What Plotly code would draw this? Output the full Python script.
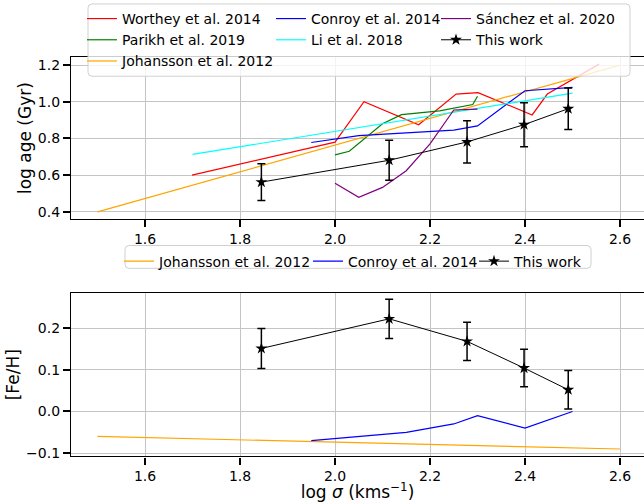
import plotly.graph_objects as go

W, H = 644, 502

# ---- data -------------------------------------------------------------
# this work: binned log velocity dispersion, age and metallicity
this_logsig = [1.845, 2.114, 2.278, 2.398, 2.491]
this_age = [0.562, 0.681, 0.781, 0.875, 0.962]
this_age_err = [0.100, 0.109, 0.115, 0.120, 0.113]
this_feh = [0.151, 0.222, 0.168, 0.104, 0.052]
this_feh_err = [0.048, 0.047, 0.046, 0.045, 0.046]

worthey_logsig = [1.699, 2.000, 2.061, 2.176, 2.255, 2.301, 2.415, 2.447, 2.556]
worthey_age = [0.600, 0.780, 1.000, 0.875, 1.042, 1.050, 0.928, 1.042, 1.205]

parikh_logsig = [2.00, 2.03, 2.10, 2.14, 2.22, 2.29, 2.30]
parikh_age = [0.710, 0.730, 0.880, 0.930, 0.950, 0.985, 1.030]

johansson_logsig = [1.5, 2.6]
johansson_age = [0.40, 1.20]
johansson_feh = [-0.060, -0.090]

conroy_logsig = [1.95, 2.05, 2.15, 2.25, 2.30, 2.40, 2.50]
conroy_age = [0.778, 0.815, 0.830, 0.845, 0.868, 1.060, 1.078]
conroy_feh = [-0.070, -0.060, -0.050, -0.030, -0.010, -0.040, 0.000]

li_logsig = [1.7, 2.5]
li_age = [0.713, 1.047]

sanchez_logsig = [2.00, 2.05, 2.10, 2.15, 2.20, 2.25, 2.30]
sanchez_age = [0.556, 0.479, 0.533, 0.624, 0.770, 0.955, 0.960]

x_ticks = [1.6, 1.8, 2.0, 2.2, 2.4, 2.6]
age_ticks = [0.4, 0.6, 0.8, 1.0, 1.2]
feh_ticks = [-0.1, 0.0, 0.1, 0.2]

FONT = "DejaVu Sans"
LW = 1.2


def px_x(p):
    return p / W


def px_y(p):
    return 1 - p / H


fig = go.Figure()


def line(x, y, name, color, xa, ya, legend):
    fig.add_trace(go.Scatter(
        x=x, y=y, name=name, mode="lines",
        line=dict(color=color, width=LW),
        xaxis=xa, yaxis=ya, legend=legend,
    ))


# upper panel: age vs log sigma
line(worthey_logsig, worthey_age, "Worthey et al. 2014", "#ff0000", "x", "y", "legend")
line(parikh_logsig, parikh_age, "Parikh et al. 2019", "#008000", "x", "y", "legend")
line(johansson_logsig, johansson_age, "Johansson et al. 2012", "#ffa500", "x", "y", "legend")
line(conroy_logsig, conroy_age, "Conroy et al. 2014", "#0000ff", "x", "y", "legend2")
line(li_logsig, li_age, "Li et al. 2018", "#00ffff", "x", "y", "legend2")
line(sanchez_logsig, sanchez_age, "Sánchez et al. 2020", "#800080", "x", "y", "legend3")
fig.add_trace(go.Scatter(
    x=this_logsig, y=this_age, name="This work", mode="lines+markers",
    line=dict(color="black", width=1),
    marker=dict(symbol="star", size=9, color="black"),
    error_y=dict(type="data", array=this_age_err, color="black", thickness=1.5, width=4),
    xaxis="x", yaxis="y", legend="legend3",
))

# lower panel: [Fe/H] vs log sigma
line(johansson_logsig, johansson_feh, "Johansson et al. 2012", "#ffa500", "x2", "y2", "legend4")
line(conroy_logsig, conroy_feh, "Conroy et al. 2014", "#0000ff", "x2", "y2", "legend5")
fig.add_trace(go.Scatter(
    x=this_logsig, y=this_feh, name="This work", mode="lines+markers",
    line=dict(color="black", width=1),
    marker=dict(symbol="star", size=9, color="black"),
    error_y=dict(type="data", array=this_feh_err, color="black", thickness=1.5, width=4),
    xaxis="x2", yaxis="y2", legend="legend6",
))

axis_common = dict(
    showline=True, linecolor="black", linewidth=1.2,
    ticks="outside", ticklen=7, tickwidth=1.5, tickcolor="black",
    showgrid=True, gridcolor="#c4c4c4", gridwidth=1,
    zeroline=False,
    tickfont=dict(family=FONT, size=14, color="black"),
)

x_dom = [px_x(71), 1.0]
x_range = [1.4442, 2.6505]

legend_common = dict(
    xanchor="left", yanchor="top", bgcolor="rgba(0,0,0,0)", borderwidth=0,
    font=dict(family=FONT, size=14, color="black"), tracegroupgap=0, itemwidth=30,
)


def leg(xp, yp, **kw):
    d = dict(legend_common)
    d.update(x=px_x(xp), y=px_y(yp), **kw)
    return d


def rounded_box(x0, y0, x1, y1, r=4):
    rx, ry = r / W, r / H
    X0, X1 = px_x(x0), px_x(x1)
    Y0, Y1 = px_y(y0), px_y(y1)  # Y0 is top
    return (
        f"M{X0 + rx},{Y0} L{X1 - rx},{Y0} Q{X1},{Y0} {X1},{Y0 - ry} "
        f"L{X1},{Y1 + ry} Q{X1},{Y1} {X1 - rx},{Y1} "
        f"L{X0 + rx},{Y1} Q{X0},{Y1} {X0},{Y1 + ry} "
        f"L{X0},{Y0 - ry} Q{X0},{Y0} {X0 + rx},{Y0} Z"
    )


fig.update_layout(
    width=W, height=H,
    margin=dict(l=0, r=0, t=0, b=0),
    paper_bgcolor="white", plot_bgcolor="white",
    font=dict(family=FONT, size=14, color="black"),
    xaxis=dict(axis_common, domain=x_dom, range=x_range, tickvals=x_ticks,
               ticktext=[f"{v:.1f}" for v in x_ticks], mirror=True, anchor="y"),
    yaxis=dict(axis_common, domain=[px_y(221), px_y(58)], range=[0.362, 1.2416],
               tickvals=age_ticks, ticktext=[f"{v:.1f}" for v in age_ticks], anchor="x",
               title=dict(text="log age (Gyr)", font=dict(family=FONT, size=17), standoff=1)),
    xaxis2=dict(axis_common, domain=x_dom, range=x_range, tickvals=x_ticks,
                ticktext=[f"{v:.1f}" for v in x_ticks], mirror=True, anchor="y2",
                title=dict(text="log <i>σ</i> (kms<sup>−1</sup>)", font=dict(family=FONT, size=17),
                           standoff=4)),
    yaxis2=dict(axis_common, domain=[px_y(461), px_y(296)], range=[-0.1078, 0.2838],
                tickvals=feh_ticks, ticktext=["−0.1", "0.0", "0.1", "0.2"], anchor="x2",
                title=dict(text="[Fe/H]", font=dict(family=FONT, size=17), standoff=2)),
    legend=leg(82, 3),
    legend2=leg(271, 3),
    legend3=leg(436, 3),
    legend4=leg(119, 248),
    legend5=leg(308, 248),
    legend6=leg(474, 248),
    showlegend=True,
    shapes=[
        dict(type="path", xref="paper", yref="paper", layer="above",
             path=rounded_box(88, 4, 630, 77),
             fillcolor="rgba(255,255,255,0.8)", line=dict(color="#d0d0d0", width=1)),
        dict(type="path", xref="paper", yref="paper", layer="above",
             path=rounded_box(125, 248, 591, 271),
             fillcolor="rgba(255,255,255,0.8)", line=dict(color="#d0d0d0", width=1)),
    ],
)

fig.write_html("out.html")
